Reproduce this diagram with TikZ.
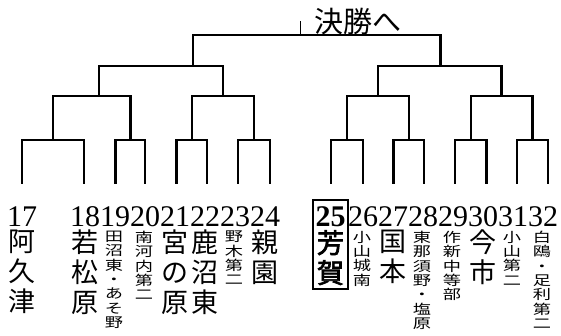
\documentclass[tikz,border=0pt]{standalone}
\usepackage{fontspec}
\setmainfont{Liberation Serif}
\newfontfamily\cjk{Noto Sans CJK JP}
\newfontfamily\cjkwide[FakeStretch=1.35]{Noto Sans CJK JP}
\newfontfamily\cjkbold[FakeBold=2.5]{Noto Sans CJK JP}
\newcommand\tightlines{\lineskiplimit=-30pt\relax\lineskip=0pt\relax}
\tikzset{
  br/.style={line width=2.2pt, line join=miter},
  tickline/.style={line width=1.1pt},
  num/.style={anchor=base, inner sep=0pt, font=\fontsize{30}{30}\selectfont},
  big/.style={anchor=north, inner sep=0pt, align=center, font=\cjk\fontsize{27}{30}\selectfont\tightlines},
  small/.style={anchor=north, inner sep=0pt, align=center, font=\cjkwide\fontsize{13.5}{14.3}\selectfont\tightlines},
  winbox/.style={draw, line width=1.8pt, inner sep=0pt, minimum width=35pt, minimum height=89pt},
}
\newcommand\brk[4]{\draw[br] (#1,#4) |- (#2,#3) -- (#2,#4);}
\begin{document}
\begin{tikzpicture}[x=1pt,y=-1pt]
\useasboundingbox (0,0) rectangle (561,336);
% first round
\brk{22.2}{84.3}{140}{184}
\brk{115.5}{145.3}{140}{184}
\brk{176.5}{207.3}{140}{184}
\brk{238.2}{269.7}{140}{184}
\brk{330.7}{363}{140}{184}
\brk{393.5}{424.3}{140}{184}
\brk{454.8}{486.4}{140}{184}
\brk{516.9}{548.1}{140}{184}
% second round
\brk{53.1}{130.4}{96}{140}
\brk{191.9}{254}{96}{140}
\brk{346.8}{408.9}{96}{140}
\brk{470.6}{532.5}{96}{140}
% third round
\brk{99}{223.1}{66}{96}
\brk{377.7}{501.4}{66}{96}
% semifinal
\brk{192.6}{440.5}{35}{66}
\coordinate (tk) at (300.6,35);
\coordinate (tkt) at (300.6,21);
\draw[tickline] (tk) -- (tkt);
\node[anchor=base west, inner sep=0pt, font=\cjk\fontsize{29}{29}\selectfont] (fin) at (314,33) {決勝へ};
% teams
\node[num] (n17) at (22,227) {17};
\node[big] (c17) at (22,230) {阿\\久\\津};
\node[num] (n18) at (85,227) {18};
\node[big] (c18) at (85,230) {若\\松\\原};
\node[num] (n19) at (115,227) {19};
\node[small] (c19) at (114,231) {田\\沼\\東\\・\\あ\\そ\\野};
\node[num] (n20) at (145,227) {20};
\node[small] (c20) at (144,231) {南\\河\\内\\第\\二};
\node[num] (n21) at (175,227) {21};
\node[big] (c21) at (175,230) {宮\\の\\原};
\node[num] (n22) at (205,227) {22};
\node[big] (c22) at (205,230) {鹿\\沼\\東};
\node[num] (n23) at (235,227) {23};
\node[small] (c23) at (234,231) {野\\木\\第\\二};
\node[num] (n24) at (265,227) {24};
\node[big] (c24) at (265,230) {親\\園};
\node[num, font=\fontsize{30}{30}\selectfont\bfseries] (n25) at (330.5,227) {25};
\node[big, font=\cjkbold\fontsize{27}{30}\selectfont\tightlines] (c25) at (330.5,230) {芳\\賀};
\node[winbox] (b25) at (330.5,244.5) {};
\node[num] (n26) at (363,227) {26};
\node[small] (c26) at (362,231) {小\\山\\城\\南};
\node[num] (n27) at (393,227) {27};
\node[big] (c27) at (393,230) {国\\本};
\node[num] (n28) at (423,227) {28};
\node[small] (c28) at (422,231) {東\\那\\須\\野\\・\\塩\\原};
\node[num] (n29) at (453,227) {29};
\node[small] (c29) at (452,231) {作\\新\\中\\等\\部};
\node[num] (n30) at (483,227) {30};
\node[big] (c30) at (483,230) {今\\市};
\node[num] (n31) at (513,227) {31};
\node[small] (c31) at (512,231) {小\\山\\第\\二};
\node[num] (n32) at (543,227) {32};
\node[small] (c32) at (542,231) {白\\鴎\\・\\足\\利\\第\\二};
\end{tikzpicture}
\end{document}
